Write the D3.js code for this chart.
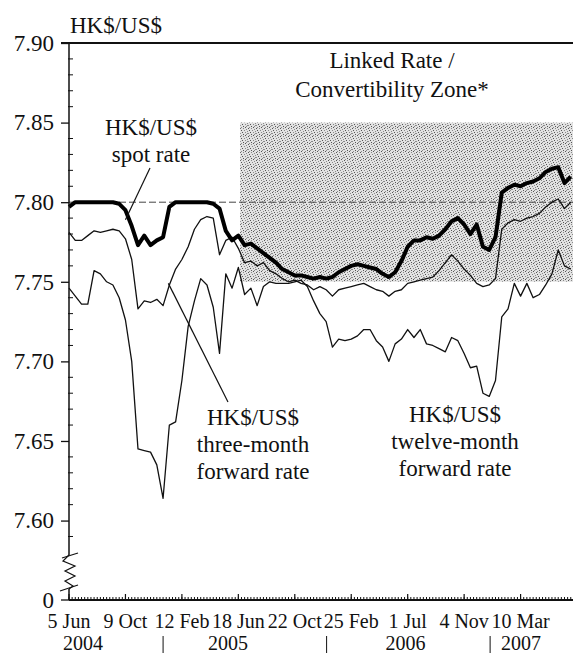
<!DOCTYPE html>
<html>
<head>
<meta charset="utf-8">
<script src="https://cdn.jsdelivr.net/npm/d3@7"></script>
<style>
  html, body { margin: 0; padding: 0; background: #fff; }
  svg, svg text { font-family: "Liberation Serif", Tinos, "Times New Roman", Times, "DejaVu Serif", serif !important; }
</style>
</head>
<body>
<div id="chart"></div>
<script>
// fortnightly readings, first one on 5 Jun 2004
const firstDate = "2004-06-05";
const stepDays = 14;

const spotRate = [
  7.797, 7.800, 7.800, 7.800, 7.800, 7.800, 7.800, 7.800, 7.799, 7.795,
  7.785, 7.773, 7.779, 7.773, 7.776, 7.778, 7.797, 7.800, 7.800, 7.800,
  7.800, 7.800, 7.800, 7.799, 7.796, 7.782, 7.776, 7.779, 7.773, 7.774,
  7.771, 7.768, 7.765, 7.762, 7.758, 7.756, 7.754, 7.754, 7.753, 7.752,
  7.753, 7.752, 7.753, 7.756, 7.758, 7.760, 7.761, 7.760, 7.759, 7.758,
  7.755, 7.753, 7.756, 7.763, 7.772, 7.776, 7.776, 7.778, 7.777, 7.779,
  7.783, 7.788, 7.790, 7.786, 7.780, 7.786, 7.772, 7.770, 7.778, 7.806,
  7.809, 7.811, 7.810, 7.812, 7.813, 7.815, 7.819, 7.821, 7.822, 7.812,
  7.816
];

const threeMonthRate = [
  7.781, 7.776, 7.776, 7.779, 7.782, 7.781, 7.782, 7.783, 7.782, 7.777,
  7.764, 7.733, 7.738, 7.737, 7.739, 7.735, 7.748, 7.758, 7.764, 7.772,
  7.783, 7.789, 7.791, 7.790, 7.767, 7.776, 7.778, 7.771, 7.762, 7.763,
  7.760, 7.762, 7.757, 7.755, 7.752, 7.750, 7.751, 7.749, 7.748, 7.745,
  7.747, 7.745, 7.741, 7.745, 7.746, 7.747, 7.748, 7.749, 7.747, 7.745,
  7.744, 7.741, 7.744, 7.745, 7.749, 7.750, 7.751, 7.752, 7.753, 7.757,
  7.762, 7.767, 7.763, 7.758, 7.754, 7.749, 7.747, 7.748, 7.752, 7.783,
  7.787, 7.789, 7.788, 7.790, 7.791, 7.793, 7.797, 7.800, 7.802, 7.796,
  7.800
];

const twelveMonthRate = [
  7.746, 7.741, 7.736, 7.736, 7.757, 7.755, 7.750, 7.748, 7.740, 7.726,
  7.700, 7.645, 7.644, 7.643, 7.635, 7.614, 7.660, 7.662, 7.688, 7.722,
  7.738, 7.752, 7.748, 7.734, 7.705, 7.755, 7.746, 7.759, 7.742, 7.746,
  7.735, 7.747, 7.750, 7.749, 7.749, 7.749, 7.750, 7.751, 7.747, 7.738,
  7.730, 7.725, 7.709, 7.714, 7.713, 7.714, 7.716, 7.720, 7.720, 7.713,
  7.709, 7.700, 7.711, 7.714, 7.720, 7.715, 7.720, 7.711, 7.710, 7.708,
  7.706, 7.715, 7.713, 7.705, 7.696, 7.697, 7.680, 7.678, 7.688, 7.728,
  7.733, 7.749, 7.741, 7.749, 7.740, 7.742, 7.748, 7.755, 7.770, 7.760,
  7.758
];

const xTickDates = ["2004-06-05", "2004-10-09", "2005-02-12", "2005-06-18", "2005-10-22",
                    "2006-02-25", "2006-07-01", "2006-11-04", "2007-03-10"];
const xTickLabels = ["5 Jun", "9 Oct", "12 Feb", "18 Jun", "22 Oct", "25 Feb", "1 Jul", "4 Nov", "10 Mar"];
const yearLabels = ["2004", "2005", "2006", "2007"];
const yearLabelDates = ["2004-07-06", "2005-05-26", "2006-06-26", "2007-03-11"];
const yearBreakDates = ["2005-01-01", "2006-01-01", "2007-01-01"];
const yTicks = [7.60, 7.65, 7.70, 7.75, 7.80, 7.85, 7.90];

// Linked Rate / Convertibility Zone
const zoneStartDate = "2005-06-22";
const zoneLow = 7.75;
const zoneHigh = 7.85;
const linkedRate = 7.80;

const FONT = '"Liberation Serif", Tinos, "Times New Roman", Times, "DejaVu Serif", serif';

const parse = d3.timeParse("%Y-%m-%d");
const start = parse(firstDate);

const W = 573, H = 653;
const margin = { left: 69, right: 0, top: 43, bottom: 53 };
const axisY = H - margin.bottom;   // y of the "0" line
const breakTop = 554;              // where the broken axis ends

const svg = d3.select("#chart").append("svg")
  .attr("width", W)
  .attr("height", H)
  .attr("font-family", FONT);

const x = d3.scaleTime()
  .domain([start, parse("2007-07-05")])
  .range([margin.left, W - margin.right]);

const y = d3.scaleLinear()
  .domain([7.579, 7.90])
  .range([breakTop, margin.top]);

const dateAt = i => d3.timeDay.offset(start, i * stepDays);

// stipple pattern for the zone (irregular dots on a light grey tile)
const defs = svg.append("defs");
const pat = defs.append("pattern")
  .attr("id", "stipple")
  .attr("patternUnits", "userSpaceOnUse")
  .attr("width", 8).attr("height", 8);
pat.append("rect").attr("width", 8).attr("height", 8).attr("fill", "#e2e2e2");
const dots = [[0, 0], [3, 0], [6, 1], [1, 2], [4, 2], [7, 3], [2, 4], [5, 4],
              [0, 5], [3, 6], [6, 6], [1, 7], [5, 7], [7, 5]];
dots.forEach(([a, b], k) => {
  pat.append("rect").attr("x", a).attr("y", b).attr("width", 1).attr("height", 1)
    .attr("fill", k % 3 === 0 ? "#555" : "#8a8a8a");
});

svg.append("rect")
  .attr("x", x(parse(zoneStartDate)))
  .attr("y", y(zoneHigh))
  .attr("width", x.range()[1] - x(parse(zoneStartDate)))
  .attr("height", y(zoneLow) - y(zoneHigh))
  .attr("fill", "url(#stipple)");

// 7.80 reference line
svg.append("line")
  .attr("x1", x.range()[0]).attr("x2", x.range()[1])
  .attr("y1", y(linkedRate)).attr("y2", y(linkedRate))
  .attr("stroke", "#444").attr("stroke-width", 1)
  .attr("stroke-dasharray", "7,3");

const line = d3.line()
  .x((d, i) => x(dateAt(i)))
  .y(d => y(d));

svg.append("path").datum(twelveMonthRate)
  .attr("d", line).attr("fill", "none")
  .attr("stroke", "#111").attr("stroke-width", 1.3).attr("stroke-linejoin", "round");

svg.append("path").datum(threeMonthRate)
  .attr("d", line).attr("fill", "none")
  .attr("stroke", "#111").attr("stroke-width", 1.3).attr("stroke-linejoin", "round");

svg.append("path").datum(spotRate)
  .attr("d", line).attr("fill", "none")
  .attr("stroke", "#000").attr("stroke-width", 4).attr("stroke-linejoin", "round");

// ---- y axis ----
const x0 = x.range()[0];
const yAxis = svg.append("g").attr("transform", `translate(${x0},0)`);
yAxis.call(d3.axisLeft(y).tickValues(yTicks).tickFormat(d3.format(".2f")).tickSize(8).tickPadding(7))
  .attr("font-family", FONT)
  .call(g => g.select(".domain").remove())
  .call(g => g.selectAll("text").attr("font-size", 23).attr("fill", "#111"))
  .call(g => g.selectAll("line").attr("stroke", "#111").attr("stroke-width", 1.3));

const minorY = d3.range(759, 790).map(v => v / 100).filter(v => !yTicks.some(t => Math.abs(t - v) < 1e-6));
yAxis.selectAll(".minor").data(minorY).enter().append("line")
  .attr("x1", -1).attr("x2", 4)
  .attr("y1", d => y(d)).attr("y2", d => y(d))
  .attr("stroke", "#111").attr("stroke-width", 1);

// axis line with the break
yAxis.append("line").attr("x1", 0).attr("x2", 0)
  .attr("y1", margin.top).attr("y2", breakTop + 1)
  .attr("stroke", "#111").attr("stroke-width", 1.5);
yAxis.append("path")
  .attr("d", d3.line()([[0, breakTop + 1], [-6, breakTop + 7], [6, breakTop + 12], [-4, breakTop + 17],
    [6, breakTop + 22], [-4, breakTop + 27], [4, breakTop + 32], [0, breakTop + 35]]))
  .attr("fill", "none").attr("stroke", "#111").attr("stroke-width", 1.2);
yAxis.append("line").attr("x1", -7).attr("x2", 9).attr("y1", breakTop + 4).attr("y2", breakTop - 1)
  .attr("stroke", "#111").attr("stroke-width", 1.2);
yAxis.append("line").attr("x1", -9).attr("x2", 9).attr("y1", breakTop + 37).attr("y2", breakTop + 31)
  .attr("stroke", "#111").attr("stroke-width", 1.2);
yAxis.append("line").attr("x1", 0).attr("x2", 0)
  .attr("y1", breakTop + 35).attr("y2", axisY)
  .attr("stroke", "#111").attr("stroke-width", 1.5);

// zero tick
yAxis.append("line").attr("x1", -8).attr("x2", 0).attr("y1", axisY).attr("y2", axisY)
  .attr("stroke", "#111").attr("stroke-width", 1.3);
yAxis.append("text").attr("x", -15).attr("y", axisY + 8)
  .attr("text-anchor", "end").attr("font-size", 23).attr("fill", "#111").text("0");

// top frame line
svg.append("line")
  .attr("x1", x0 - 8).attr("x2", x.range()[1])
  .attr("y1", y(7.90)).attr("y2", y(7.90))
  .attr("stroke", "#111").attr("stroke-width", 2);

// ---- x axis ----
const xAxis = svg.append("g");
xAxis.append("line")
  .attr("x1", x0).attr("x2", x.range()[1])
  .attr("y1", axisY).attr("y2", axisY)
  .attr("stroke", "#111").attr("stroke-width", 2);

const weekly = d3.range(0, 162).map(i => d3.timeDay.offset(start, i * 7));
xAxis.selectAll(".wk").data(weekly).enter().append("line")
  .attr("x1", d => x(d)).attr("x2", d => x(d))
  .attr("y1", axisY).attr("y2", axisY - 3)
  .attr("stroke", "#111").attr("stroke-width", 1);

xAxis.selectAll(".maj").data(xTickDates).enter().append("line")
  .attr("x1", d => x(parse(d))).attr("x2", d => x(parse(d)))
  .attr("y1", axisY).attr("y2", axisY - 6)
  .attr("stroke", "#111").attr("stroke-width", 1.2);

xAxis.selectAll(".lbl").data(xTickLabels).enter().append("text")
  .attr("x", (d, i) => x(parse(xTickDates[i])))
  .attr("y", axisY + 28)
  .attr("text-anchor", "middle")
  .attr("font-size", 20).attr("fill", "#111")
  .text(d => d);

xAxis.selectAll(".yr").data(yearLabels).enter().append("text")
  .attr("x", (d, i) => x(parse(yearLabelDates[i])))
  .attr("y", axisY + 50)
  .attr("text-anchor", "middle")
  .attr("font-size", 20).attr("fill", "#111")
  .text(d => d);

xAxis.selectAll(".sep").data(yearBreakDates).enter().append("line")
  .attr("x1", d => x(parse(d))).attr("x2", d => x(parse(d)))
  .attr("y1", axisY + 36).attr("y2", H)
  .attr("stroke", "#111").attr("stroke-width", 1);

// ---- texts ----
function block(lines, cx, y0, dy, size) {
  const t = svg.append("text").attr("text-anchor", "middle").attr("font-size", size).attr("fill", "#111");
  lines.forEach((s, i) => t.append("tspan").attr("x", cx).attr("y", y0 + i * dy).text(s));
}

svg.append("text").attr("x", x0 + 1).attr("y", 33)
  .attr("font-size", 23).attr("fill", "#111").text("HK$/US$");

block(["Linked Rate /", "Convertibility Zone*"], 392, 68, 29, 23);
block(["HK$/US$", "spot rate"], 151, 135, 27, 23);
block(["HK$/US$", "three-month", "forward rate"], 253, 425, 27, 23);
block(["HK$/US$", "twelve-month", "forward rate"], 455, 422, 27, 23);

// pointer lines
svg.append("line").attr("x1", 150).attr("y1", 168).attr("x2", x(dateAt(9))).attr("y2", y(7.789))
  .attr("stroke", "#111").attr("stroke-width", 1.2);
svg.append("line").attr("x1", 228).attr("y1", 402).attr("x2", x(dateAt(16)) - 1).attr("y2", y(7.749))
  .attr("stroke", "#111").attr("stroke-width", 1.2);
</script>
</body>
</html>
